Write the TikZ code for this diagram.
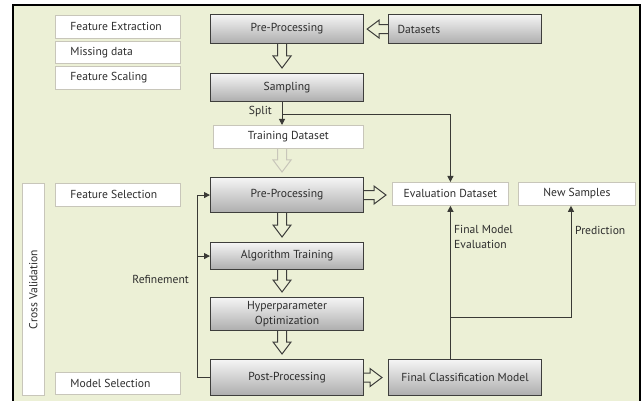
\documentclass[tikz,border=0pt]{standalone}
\usepackage{fontspec}
\setmainfont{PT Sans}
\usetikzlibrary{arrows.meta,calc}

\definecolor{bg}{RGB}{236,240,214}
\definecolor{ink}{RGB}{45,45,45}
\definecolor{edge}{RGB}{62,62,60}
\definecolor{pale}{RGB}{200,198,186}
\definecolor{wire}{RGB}{58,58,54}

\tikzset{
  txt/.style={text=ink, font=\fontsize{11.6}{15}\selectfont, inner sep=0pt},
  note/.style={txt, draw=pale, fill=white, line width=0.8pt, minimum width=125pt,
    minimum height=23pt, anchor=north west},
  stage/.style={txt, draw=edge, line width=1.1pt, top color=white!96!black,
    bottom color=black!32, minimum width=153pt, anchor=north west, align=center},
  hollow/.style={draw=edge, line width=1pt, line join=miter},
  conn/.style={draw=wire, line width=1pt},
  tip/.style={-{Triangle[length=6pt,width=6pt]}}
}

% text padded on the left inside the narrow side boxes
\newcommand\padl[1]{\makebox[95pt][l]{#1}}

% block arrows between two stages
\newcommand\hollowdown[3][]{\draw[hollow,#1] let \p1=(#2), \p2=(#3) in
  (\x1-4.5pt,\y1) -- (\x1-4.5pt,\y2+17pt) -- (\x1-9pt,\y2+17pt) -- (\x1,\y2+5pt)
  -- (\x1+9pt,\y2+17pt) -- (\x1+4.5pt,\y2+17pt) -- (\x1+4.5pt,\y1);}
\newcommand\hollowright[3][]{\draw[hollow,#1] let \p1=(#2), \p2=(#3) in
  (\x1,\y1+4.5pt) -- (\x2-18pt,\y1+4.5pt) -- (\x2-18pt,\y1+9pt) -- (\x2-6pt,\y1)
  -- (\x2-18pt,\y1-9pt) -- (\x2-18pt,\y1-4.5pt) -- (\x1,\y1-4.5pt);}
\newcommand\hollowleft[3][]{\draw[hollow,#1] let \p1=(#2), \p2=(#3) in
  (\x1,\y1+4.5pt) -- (\x2+15pt,\y1+4.5pt) -- (\x2+15pt,\y1+9pt) -- (\x2+3pt,\y1)
  -- (\x2+15pt,\y1-9pt) -- (\x2+15pt,\y1-4.5pt) -- (\x1,\y1-4.5pt);}

\begin{document}
\begin{tikzpicture}[x=1pt,y=-1pt]
\clip (0,0) rectangle (643,401);
\draw[fill=bg, line width=2pt] (13,5) rectangle (640,410);

\coordinate (axis) at (282,0);
\coordinate (loopx) at (197,0);
\coordinate (predx) at (571,317);

% side notes
\node[note] (fe) at (55,15) {\padl{Feature Extraction}};
\node[note, minimum height=22pt] (md) at (55,41) {\padl{Missing data}};
\node[note] (fs) at (55,66) {\padl{Feature Scaling}};
\node[note] (fsel) at (55,183) {\padl{Feature Selection}};
\node[note, minimum height=22pt] (msel) at (55,372) {\padl{Model Selection}};
\node[note, minimum width=22pt, minimum height=212pt] (cv) at (22,183) {};
\node[txt, rotate=90] (cvtext) at (cv.center) {Cross Validation};

% main stages
\node[stage, minimum height=29pt] (pp1) at (210,14) {Pre-Processing};
\node[stage, minimum height=29pt, text width=135pt, align=left] (ds) at (388,14) {Datasets};
\node[stage, minimum height=28pt] (samp) at (210,73) {Sampling};
\node[note, minimum width=150pt] (td) at (213,125) {Training Dataset};
\node[stage, minimum height=35pt] (pp2) at (210,177) {Pre-Processing};
\node[stage, minimum height=27pt] (at) at (210,242) {Algorithm Training};
\node[stage, minimum height=33pt] (ho) at (210,297) {Hyperparameter\\Optimization};
\node[stage, minimum height=36pt] (post) at (210,359) {Post-Processing};
\node[stage, minimum height=36pt] (fcm) at (388,359) {Final Classification Model};
\node[note, minimum width=116pt] (ed) at (392,182) {Evaluation Dataset};
\node[note, minimum width=117pt] (ns) at (518,182) {New Samples};

% block arrows
\hollowleft{ds.west}{pp1.east}
\hollowdown{pp1.south -| axis}{samp.north}
\hollowdown[draw=pale]{td.south -| axis}{pp2.north}
\hollowdown{pp2.south -| axis}{at.north}
\hollowdown{at.south -| axis}{ho.north}
\hollowdown{ho.south -| axis}{post.north}
\hollowright{pp2.east}{ed.west}
\hollowright{post.east}{fcm.west}

% split of the sampled data
\draw[conn, tip] (samp.south -| axis) -- (td.north -| axis);
\draw[conn, tip] ($(samp.south -| axis)+(0,12)$) -| (ed.north);
\node[txt, anchor=east] (splitlab) at (272,112) {Split};

% refinement loop
\draw[conn, tip] (post.west) -| (loopx |- pp2.west) -- (pp2.west);
\draw[conn, tip] (loopx |- at.west) -- (at.west);
\node[txt, anchor=east] (reflab) at (189,279) {Refinement};

% evaluation and prediction
\draw[conn, tip] (fcm.north -| ed.south) -- (ed.south);
\draw[conn, tip] (ed.south |- predx) -| (ns.south -| predx);
\node[txt, anchor=north west, align=left] (fmlab) at (454,225) {Final Model\\Evaluation};
\node[txt, anchor=west] (predlab) at (575,230) {Prediction};
\end{tikzpicture}
\end{document}
